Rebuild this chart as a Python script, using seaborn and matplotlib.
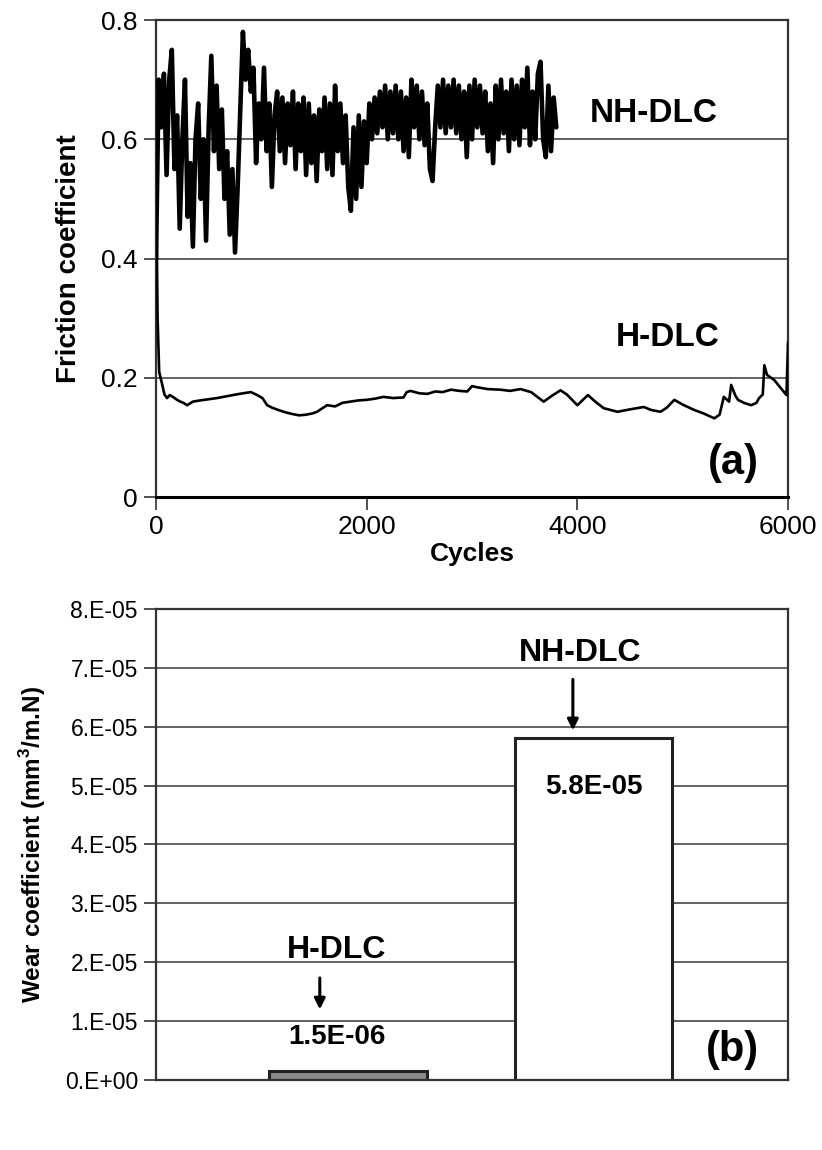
import numpy as np
import pandas as pd
import matplotlib
matplotlib.use("Agg")
import matplotlib.pyplot as plt
import seaborn as sns

# ---------------- data ----------------
# NH-DLC friction coefficient, one reading every 25 cycles (0 .. 3800)
nh_step = 25
nh_values = [
    0.40, 0.70, 0.62, 0.71, 0.54, 0.70, 0.75, 0.55, 0.64, 0.45,
    0.60, 0.70, 0.47, 0.56, 0.42, 0.60, 0.66, 0.50, 0.60, 0.43,
    0.62, 0.74, 0.58, 0.69, 0.55, 0.65, 0.50, 0.58, 0.44, 0.55,
    0.41, 0.52, 0.65, 0.78, 0.70, 0.75, 0.68, 0.72, 0.56, 0.66,
    0.60, 0.72, 0.58, 0.66, 0.52, 0.64, 0.68, 0.58, 0.67, 0.56,
    0.66, 0.59, 0.68, 0.55, 0.66, 0.58, 0.67, 0.54, 0.66, 0.56,
    0.64, 0.53, 0.65, 0.58, 0.67, 0.55, 0.66, 0.54, 0.69, 0.58,
    0.66, 0.56, 0.64, 0.52, 0.48, 0.62, 0.50, 0.64, 0.52, 0.63,
    0.56, 0.66, 0.60, 0.67, 0.61, 0.68, 0.62, 0.69, 0.60, 0.68,
    0.61, 0.69, 0.60, 0.68, 0.58, 0.67, 0.57, 0.70, 0.62, 0.69,
    0.60, 0.68, 0.59, 0.66, 0.55, 0.53, 0.62, 0.69, 0.62, 0.70,
    0.61, 0.69, 0.62, 0.70, 0.61, 0.69, 0.60, 0.68, 0.57, 0.69,
    0.60, 0.70, 0.62, 0.69, 0.61, 0.68, 0.58, 0.66, 0.56, 0.69,
    0.60, 0.70, 0.61, 0.68, 0.58, 0.70, 0.60, 0.69, 0.59, 0.70,
    0.62, 0.72, 0.59, 0.68, 0.60, 0.71, 0.73, 0.60, 0.57, 0.69,
    0.58, 0.67, 0.62,
]
nh_cycles = list(np.arange(len(nh_values)) * nh_step)

# H-DLC friction coefficient
h_cycles = [0, 15, 30, 57, 80, 105, 130, 160, 200, 230, 260, 295, 350, 418,
            500, 580, 640, 700, 760, 827, 900, 960, 1010, 1055, 1100, 1160,
            1230, 1300, 1360, 1420, 1480, 1530, 1580, 1625, 1700, 1770, 1845,
            1920, 2000, 2080, 2160, 2250, 2350, 2380, 2415, 2500, 2577, 2650,
            2720, 2800, 2880, 2955, 3000, 3050, 3150, 3270, 3360, 3460, 3560,
            3680, 3760, 3840, 3900, 4000, 4100, 4170, 4250, 4380, 4500, 4630,
            4700, 4790, 4850, 4920, 5000, 5110, 5200, 5300, 5350, 5390, 5440,
            5460, 5500, 5525, 5580, 5650, 5700, 5725, 5760, 5775, 5800, 5870,
            5930, 5985, 6000]
h_values = [0.55, 0.30, 0.21, 0.19, 0.172, 0.166, 0.171, 0.168, 0.163, 0.160,
            0.158, 0.154, 0.160, 0.162, 0.164, 0.166, 0.168, 0.170, 0.172,
            0.174, 0.176, 0.171, 0.166, 0.154, 0.150, 0.146, 0.142, 0.139,
            0.137, 0.138, 0.140, 0.143, 0.149, 0.154, 0.152, 0.158, 0.160,
            0.162, 0.163, 0.165, 0.168, 0.166, 0.167, 0.176, 0.178, 0.174,
            0.173, 0.177, 0.176, 0.180, 0.178, 0.177, 0.186, 0.184, 0.181,
            0.180, 0.178, 0.181, 0.176, 0.160, 0.170, 0.179, 0.172, 0.154,
            0.171, 0.160, 0.149, 0.143, 0.147, 0.151, 0.146, 0.143, 0.150,
            0.163, 0.155, 0.146, 0.140, 0.132, 0.138, 0.168, 0.160, 0.188,
            0.170, 0.163, 0.158, 0.154, 0.158, 0.166, 0.172, 0.221, 0.205,
            0.196, 0.183, 0.171, 0.260]

friction_yticks = [0, 0.2, 0.4, 0.6, 0.8]
friction_yticklabels = ["0", "0.2", "0.4", "0.6", "0.8"]
cycle_ticks = [0, 2000, 4000, 6000]

# Wear coefficients
coatings = ["H-DLC", "NH-DLC"]
wear_values = [1.5e-6, 5.8e-5]
wear_labels = ["1.5E-06", "5.8E-05"]
wear_yticks = [0, 1e-5, 2e-5, 3e-5, 4e-5, 5e-5, 6e-5, 7e-5, 8e-5]
wear_yticklabels = ["0.E+00", "1.E-05", "2.E-05", "3.E-05", "4.E-05",
                    "5.E-05", "6.E-05", "7.E-05", "8.E-05"]

# ---------------- style ----------------
sns.set_theme(style="white")
plt.rcParams["font.family"] = ["Liberation Sans", "DejaVu Sans"]
plt.rcParams["mathtext.fontset"] = "custom"
plt.rcParams["mathtext.rm"] = "Liberation Sans"
plt.rcParams["mathtext.bf"] = "Liberation Sans:bold"
plt.rcParams["text.color"] = "black"
plt.rcParams["axes.labelcolor"] = "black"
plt.rcParams["xtick.color"] = "black"
plt.rcParams["ytick.color"] = "black"

frame_col = "#333333"
grid_col = "#555555"

fig = plt.figure(figsize=(8.22, 11.5), dpi=100)
ax1 = fig.add_axes([0.1898, 0.5678, 0.7689, 0.4148])
ax2 = fig.add_axes([0.1898, 0.0609, 0.7689, 0.4096])

# ---------------- panel (a) ----------------
df_nh = pd.DataFrame({"Cycles": nh_cycles, "mu": nh_values})
df_h = pd.DataFrame({"Cycles": h_cycles, "mu": h_values})
for y in friction_yticks:
    ax1.axhline(y, color=grid_col, lw=1.3, zorder=0)
sns.lineplot(data=df_nh, x="Cycles", y="mu", ax=ax1, color="black",
             lw=3.3, estimator=None, sort=False, zorder=3)
sns.lineplot(data=df_h, x="Cycles", y="mu", ax=ax1, color="black",
             lw=1.9, estimator=None, sort=False, zorder=3)
ax1.set_xlim(0, 6000)
ax1.set_ylim(0, 0.8)
ax1.set_yticks(friction_yticks)
ax1.set_yticklabels(friction_yticklabels)
ax1.set_xticks(cycle_ticks)
ax1.set_xticklabels([str(c) for c in cycle_ticks])
ax1.tick_params(axis="both", direction="out", length=9, width=1.2,
                color=frame_col, labelsize=19, pad=4, left=True, bottom=True)
ax1.set_xlabel("Cycles", fontsize=19, fontweight="bold", labelpad=2)
ax1.set_ylabel("Friction coefficient", fontsize=20, fontweight="bold", labelpad=14)
for s in ax1.spines.values():
    s.set_color(frame_col)
    s.set_linewidth(1.6)
ax1.spines["bottom"].set_color("black")
ax1.spines["bottom"].set_linewidth(2.2)

ax1.text(4727, 0.644, "NH-DLC", fontsize=24, fontweight="bold",
         ha="center", va="center")
ax1.text(4860, 0.268, "H-DLC", fontsize=24, fontweight="bold",
         ha="center", va="center")
ax1.text(5478, 0.057, "(a)", fontsize=30, fontweight="bold",
         ha="center", va="center")

# ---------------- panel (b) ----------------
df_w = pd.DataFrame({"coating": coatings, "wear": wear_values})
for y in wear_yticks:
    ax2.axhline(y, color=grid_col, lw=1.3, zorder=0)
sns.barplot(data=df_w, x="coating", y="wear", hue="coating",
            palette=["#8a8a8a", "white"], width=0.64, ax=ax2,
            edgecolor="#222222", linewidth=2.2, legend=False, zorder=2)
ax2.set_xlim(-0.78, 1.79)
ax2.set_ylim(0, 8e-5)
ax2.set_yticks(wear_yticks)
ax2.set_yticklabels(wear_yticklabels)
ax2.set_xticks([])
ax2.set_xlabel("")
ax2.set_ylabel(r"Wear coefficient (mm$^{\mathbf{3}}$/m.N)", fontsize=17.5,
               fontweight="bold", labelpad=12)
ax2.tick_params(axis="y", direction="out", length=9, width=1.2,
                color=frame_col, labelsize=16.5, pad=4, left=True)
for s in ax2.spines.values():
    s.set_color(frame_col)
    s.set_linewidth(1.6)

ax2.text(0.943, 7.25e-5, "NH-DLC", fontsize=23, fontweight="bold",
         ha="center", va="center")
ax2.annotate("", xy=(0.915, 5.89e-5), xytext=(0.915, 6.85e-5),
             arrowprops=dict(arrowstyle="-|>", color="black", lw=2.2,
                             mutation_scale=16))
ax2.text(1.0, 4.98e-5, wear_labels[1], fontsize=20, fontweight="bold",
         ha="center", va="center")
ax2.text(-0.045, 2.21e-5, "H-DLC", fontsize=23, fontweight="bold",
         ha="center", va="center")
ax2.annotate("", xy=(-0.114, 1.15e-5), xytext=(-0.114, 1.78e-5),
             arrowprops=dict(arrowstyle="-|>", color="black", lw=2.2,
                             mutation_scale=16))
ax2.text(-0.045, 0.73e-5, wear_labels[0], fontsize=20, fontweight="bold",
         ha="center", va="center")
ax2.text(1.565, 0.51e-5, "(b)", fontsize=30, fontweight="bold",
         ha="center", va="center")

fig.savefig("out.png", dpi=100)
